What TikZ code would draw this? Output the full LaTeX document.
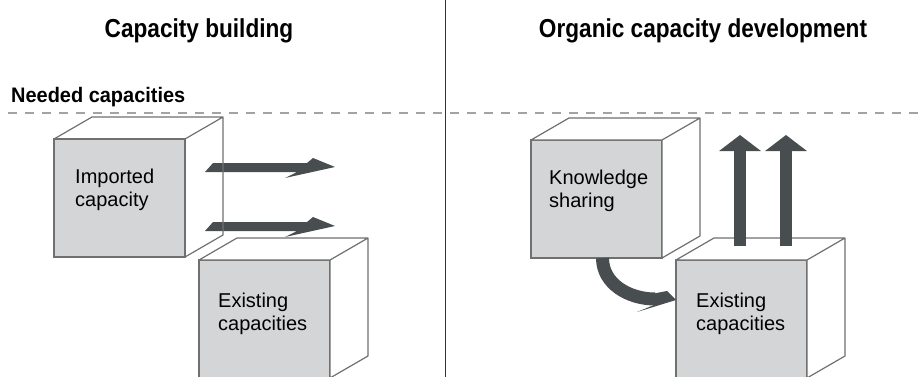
\documentclass[tikz,border=0pt]{standalone}
\usepackage{fontspec}
\setmainfont{Liberation Sans}
\newfontfamily\titlefont[FakeStretch=0.87]{Liberation Sans}
\newfontfamily\needfont[FakeStretch=0.95]{Liberation Sans}
\usetikzlibrary{arrows.meta, positioning}
\definecolor{facegray}{HTML}{D4D5D6}
\definecolor{edgegray}{HTML}{707070}
\definecolor{arrowgray}{HTML}{484E50}
\definecolor{dashgray}{HTML}{A3A3A3}
\tikzset{>=latex}

\begin{document}
\begin{tikzpicture}
[x=1pt, y=1pt,
front/.style={draw=edgegray, line width=1.2pt, fill=facegray, minimum width=131pt, minimum height=118pt, inner sep=0pt, outer sep=0pt, anchor=north west},
side/.style={draw=edgegray, line width=1.2pt, line join=round},
boxtext/.style={inner sep=0pt, align=left, font=\fontsize{20}{23}\selectfont},
title/.style={anchor=base, font=\titlefont\bfseries\fontsize{26}{30}\selectfont},
flat/.pic={\fill[arrowgray] (-130,-5) -- (-122,4) -- (-28,4) -- (-22,9) -- (0,0) -- (-50,-11) -- (-38,-5) -- cycle;},
bendhead/.pic={\fill[arrowgray] (-22,6.5) -- (-9,9) -- (0,0) -- (-39,-12) -- (-22,-5) -- cycle;},
rise/.style={draw=arrowgray, line width=12pt, -{Triangle[length=16pt, width=41pt]}},
turn/.style={draw=arrowgray, line width=13pt}]
\useasboundingbox (0,0) rectangle (923,-377);
\node[title] (lefttitle) at (199,-38) {Capacity building};
\node[title] (righttitle) at (703,-38) {Organic capacity development};
\node[anchor=base west, inner sep=0pt, font=\needfont\bfseries\fontsize{21}{24}\selectfont] (need) at (11,-103) {Needed capacities};
\draw[dashgray, line width=1.3pt, dash pattern=on 9pt off 8pt] (8,-113) -- (923,-113);
\draw[black!80, line width=1pt] (445,0) -- (445,-377);
\node[front] (imp) at (54,-139) {};
\node[front] (exl) at (199,-260) {};
\node[front] (kno) at (531,-140) {};
\node[front] (exr) at (676,-260) {};
\coordinate (a1) at (335,-167);
\coordinate (a2) at (335,-226);
\pic at (a1) {flat};
\pic at (a2) {flat};
\foreach \b/\c in {imp/none, exl/white, kno/white, exr/white}
  \draw[side, fill=\c] (\b.north west) -- ++(38,22) -- ++(131,0) -- ++(0,-118) -- (\b.south east) -- (\b.north east) -- cycle
    (\b.north east) -- ++(38,22);
\node[boxtext, below right=30pt and 21pt of imp.north west] (imptext) {Imported\\capacity};
\node[boxtext, below right=33pt and 19pt of exl.north west] (exltext) {Existing\\capacities};
\node[boxtext, below right=30pt and 18pt of kno.north west] (knotext) {Knowledge\\sharing};
\node[boxtext, below right=33pt and 20pt of exr.north west] (exrtext) {Existing\\capacities};
\coordinate (u1) at (740,-135);
\coordinate (u2) at (786,-135);
\draw[rise] ([shift={(-1.5,14)}]exr.north) -- (u1);
\draw[rise] ([shift={(44.5,14)}]exr.north) -- (u2);
\coordinate (tip) at ([yshift=19pt]exr.west);
\draw[turn] ([xshift=6pt]kno.south) to[out=-90, in=180] ([shift={(-21,1)}]tip);
\pic at (tip) {bendhead};
\end{tikzpicture}
\end{document}
